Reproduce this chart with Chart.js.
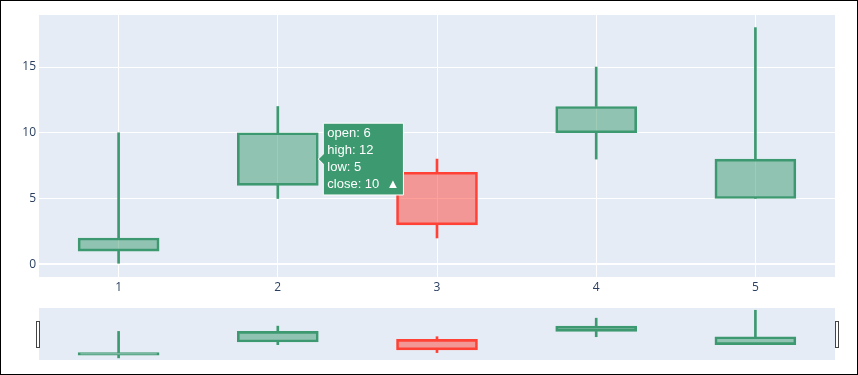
<!DOCTYPE html>
<html>
<head>
<meta charset="utf-8">
<script src="https://cdn.jsdelivr.net/npm/chart.js@4/dist/chart.umd.min.js"></script>
<style>
  html, body { margin: 0; padding: 0; background: #fff; }
  body { width: 858px; height: 375px; position: relative; overflow: hidden; }
  #frame { position: absolute; left: 0; top: 0; width: 858px; height: 375px; box-sizing: border-box; border: 1px solid #000; pointer-events: none; }
  #mainWrap { position: absolute; left: 0; top: 0; width: 858px; height: 300px; }
  #sliderWrap { position: absolute; left: 0; top: 300px; width: 858px; height: 75px; }
</style>
</head>
<body>
<div id="mainWrap"><canvas id="mainChart"></canvas></div>
<div id="sliderWrap"><canvas id="sliderChart"></canvas></div>
<div id="frame"></div>
<script>
// candlestick data
const labels = ['1', '2', '3', '4', '5'];
const openVals = [1, 6, 7, 10, 5];
const highVals = [10, 12, 8, 15, 18];
const lowVals = [0, 5, 2, 8, 5];
const closeVals = [2, 10, 3, 12, 8];
const yTicks = [0, 5, 10, 15];

const UP = '#3D9970', DOWN = '#FF4136';
const UP_FILL = 'rgba(61,153,112,0.5)', DOWN_FILL = 'rgba(255,65,54,0.5)';
const PLOT_BG = '#E5ECF6';
const TICK = '#2a3f5f';

const isUp = openVals.map((o, i) => closeVals[i] >= o);
const lineCols = isUp.map(u => u ? UP : DOWN);
const fillCols = isUp.map(u => u ? UP_FILL : DOWN_FILL);
const bodies = openVals.map((o, i) => [o, closeVals[i]]);
const upperWicks = openVals.map((o, i) => [Math.max(o, closeVals[i]), highVals[i]]);
const lowerWicks = openVals.map((o, i) => [lowVals[i], Math.min(o, closeVals[i])]);

const plotBg = {
    id: 'plotBg',
    beforeDraw(chart) {
        const a = chart.chartArea, ctx = chart.ctx;
        ctx.save();
        ctx.fillStyle = PLOT_BG;
        ctx.fillRect(a.left, a.top, a.right - a.left, a.bottom - a.top);
        ctx.restore();
    }
};

Chart.Tooltip.positioners.candle = function (items) {
    if (!items.length) return false;
    const el = items[0].element;
    return { x: el.x + el.width / 2, y: (el.y + el.base) / 2 };
};

function datasets(boxW) {
    return [
        { data: bodies, backgroundColor: fillCols, borderColor: lineCols, borderWidth: 2, borderSkipped: false, barThickness: boxW, grouped: false },
        { data: upperWicks, backgroundColor: lineCols, borderWidth: 0, barThickness: 2, grouped: false },
        { data: lowerWicks, backgroundColor: lineCols, borderWidth: 0, barThickness: 2, grouped: false }
    ];
}

const mainChart = new Chart(document.getElementById('mainChart'), {
    type: 'bar',
    data: { labels: labels, datasets: datasets(81) },
    options: {
        responsive: true, maintainAspectRatio: false, animation: false, events: [],
        layout: { padding: { left: 0, right: 23, top: 15, bottom: 0 } },
        plugins: {
            legend: { display: false },
            tooltip: {
                position: 'candle', xAlign: 'left', yAlign: 'center',
                backgroundColor: UP, borderColor: '#fff', borderWidth: 1, cornerRadius: 0,
                caretSize: 5, caretPadding: 0, displayColors: false,
                bodyColor: '#fff', bodyFont: { family: "'Liberation Sans', Arial, sans-serif", size: 13, lineHeight: 1.15 },
                bodySpacing: 2, padding: { top: 3, bottom: 3, left: 4, right: 4 },
                callbacks: {
                    title: () => '',
                    label: (c) => {
                        const i = c.dataIndex;
                        return ['open: ' + openVals[i], 'high: ' + highVals[i], 'low: ' + lowVals[i], 'close: ' + closeVals[i] + '  ' + (isUp[i] ? '▲' : '▼')];
                    }
                }
            }
        },
        scales: {
            x: {
                offset: true,
                grid: { offset: false, color: '#fff', lineWidth: 1, drawTicks: false },
                border: { display: false },
                ticks: { color: TICK, font: { family: "'Open Sans', sans-serif", size: 12 }, padding: 3 },
                afterFit: (s) => { s.height = 23; }
            },
            y: {
                min: -0.97, max: 18.96,
                afterBuildTicks: (s) => { s.ticks = yTicks.map(v => ({ value: v })); },
                grid: { color: '#fff', lineWidth: (c) => c.tick && c.tick.value === 0 ? 2 : 1, drawTicks: false },
                border: { display: false },
                ticks: { color: TICK, font: { family: "'Open Sans', sans-serif", size: 12 }, padding: 3 },
                afterFit: (s) => { s.width = 39; }
            }
        }
    },
    plugins: [plotBg]
});
mainChart.tooltip.setActiveElements([{ datasetIndex: 0, index: 1 }], { x: 0, y: 0 });
mainChart.update();

// range slider handles
const handles = {
    id: 'handles',
    afterDraw(chart) {
        const a = chart.chartArea, ctx = chart.ctx;
        const h = 26, y = (a.top + a.bottom) / 2 - h / 2;
        ctx.save();
        ctx.fillStyle = '#fff';
        ctx.strokeStyle = '#444';
        ctx.lineWidth = 1;
        [a.left - 2, a.right + 1].forEach(x => {
            ctx.fillRect(x - 0.5, y, 3, h);
            ctx.strokeRect(x - 0.5, y + 0.5, 3, h);
        });
        ctx.restore();
    }
};

new Chart(document.getElementById('sliderChart'), {
    type: 'bar',
    data: { labels: labels, datasets: datasets(81) },
    options: {
        responsive: true, maintainAspectRatio: false, animation: false, events: [],
        layout: { padding: { left: 39, right: 23, top: 8, bottom: 15 } },
        plugins: { legend: { display: false }, tooltip: { enabled: false } },
        scales: {
            x: { display: false, offset: true },
            y: { display: false, min: -0.8, max: 18.85 }
        }
    },
    plugins: [plotBg, handles]
});
</script>
</body>
</html>
